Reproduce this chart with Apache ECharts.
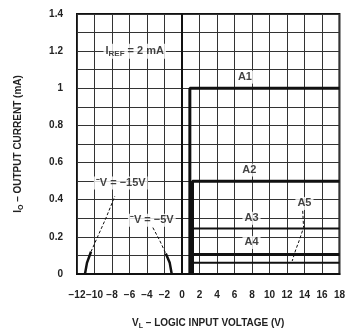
<!DOCTYPE html>
<html>
<head>
<meta charset="utf-8">
<script src="https://cdn.jsdelivr.net/npm/echarts@6/dist/echarts.min.js"></script>
<style>
  html, body { margin: 0; padding: 0; background: #fff; }
  #chart { width: 348px; height: 335px; }
</style>
</head>
<body>
<div id="chart"></div>
<script>
// bit transfer curves (logic input V, output mA)
const curveA1 = [[0.9, 0], [0.9, 1.0], [18, 1.0]];
const curveA2 = [[1.2, 0], [1.2, 0.5], [18, 0.5]];
const curveA3 = [[1.2, 0], [1.2, 0.245], [18, 0.245]];
const curveA4 = [[1.2, 0], [1.2, 0.105], [18, 0.105]];
const curveA5 = [[1.2, 0], [1.2, 0.06], [18, 0.06]];

// threshold curves on the negative side
const neg15Solid = [[-11.09, 0], [-10.86, 0.06], [-10.4, 0.12]];
const neg15Dash = [[-10.4, 0.12], [-9.6, 0.205], [-8.7, 0.3], [-7.67, 0.42]];
const neg5Dash = [[-3.33, 0.25], [-2.54, 0.18], [-1.85, 0.11]];
const neg5Solid = [[-1.85, 0.11], [-1.4, 0.06], [-1.17, 0]];

// leader from the A5 tag down to its line
const leaderA5 = [[13.8, 0.34], [13.9, 0.25], [13.4, 0.18], [13.0, 0.13], [12.6, 0.07]];

// text tags [x, y, text]
const tags = [
  [7.2, 1.06, 'A1'],
  [7.7, 0.56, 'A2'],
  [7.95, 0.30, 'A3'],
  [7.95, 0.17, 'A4'],
  [14.0, 0.38, 'A5'],
  [-5.4, 1.2, '{n|I}{s|REF}{n| = 2 mA}'],
  [-7.0, 0.49, '⁻V = −15V'],
  [-3.45, 0.29, '⁻V = −5V']
];

const xTickMin = -12, xTickMax = 18, xStep = 2;
const yMin = 0, yMax = 1.4, yGridStep = 0.1;

const FONT = 'Liberation Sans Narrow, Liberation Sans, Arial, sans-serif';

function line(data, width, dashed) {
  return {
    type: 'line', data, symbol: 'none', silent: true, animation: false,
    lineStyle: { color: '#111', width, type: dashed ? [3, 2] : 'solid' },
    z: 3
  };
}

const chart = echarts.init(document.getElementById('chart'), null, { renderer: 'canvas' });
chart.setOption({
  backgroundColor: '#fff',
  animation: false,
  grid: { left: 77, right: 8, top: 14, bottom: 61, show: true, borderColor: '#111', borderWidth: 2 },
  xAxis: {
    type: 'value', min: xTickMin, max: xTickMax, interval: xStep,
    name: '{v|V}{s|L}{t| – LOGIC INPUT VOLTAGE (V)}',
    nameLocation: 'middle', nameGap: 43,
    nameTextStyle: {
      rich: {
        v: { fontFamily: FONT, fontSize: 10, fontWeight: 'bold', color: '#222' },
        s: { fontFamily: FONT, fontSize: 7, fontWeight: 'bold', color: '#222', verticalAlign: 'bottom', padding: [6, 0, 0, 0] },
        t: { fontFamily: FONT, fontSize: 10, fontWeight: 'bold', color: '#222' }
      }
    },
    axisLine: { lineStyle: { color: '#111', width: 2 } },
    axisTick: { show: false },
    axisLabel: {
      margin: 16, color: '#222', fontFamily: FONT, fontSize: 10, fontWeight: 'bold',
      formatter: v => (v < 0 ? '−' + Math.abs(v) : String(v))
    },
    splitLine: { lineStyle: { color: '#333', width: 1 } }
  },
  yAxis: {
    type: 'value', min: yMin, max: yMax, interval: yGridStep,
    name: '{i|I}{s|O}{t| – OUTPUT CURRENT (mA)}',
    nameLocation: 'middle', nameGap: 52, nameRotate: 90,
    nameTextStyle: {
      rich: {
        i: { fontFamily: FONT, fontSize: 10, fontWeight: 'bold', color: '#222' },
        s: { fontFamily: FONT, fontSize: 7, fontWeight: 'bold', color: '#222', padding: [6, 0, 0, 0] },
        t: { fontFamily: FONT, fontSize: 10, fontWeight: 'bold', color: '#222' }
      }
    },
    axisLine: { show: true, lineStyle: { color: '#111', width: 2 } },
    axisTick: { show: false },
    axisLabel: {
      margin: 14, color: '#222', fontFamily: FONT, fontSize: 10, fontWeight: 'bold',
      formatter: v => {
        const k = Math.round(v * 10);
        if (k % 2 !== 0) return '';
        return k === 10 ? '1' : (k / 10).toFixed(1).replace(/\.0$/, '');
      }
    },
    splitLine: { lineStyle: { color: '#333', width: 1 } }
  },
  series: [
    line(curveA1, 3),
    line(curveA2, 3),
    line(curveA3, 2),
    line(curveA4, 3),
    line(curveA5, 2),
    line(neg15Solid, 2.5),
    line(neg15Dash, 1, true),
    line(neg5Dash, 1, true),
    line(neg5Solid, 2.5),
    line(leaderA5, 1, true),
    {
      type: 'scatter', silent: true, symbolSize: 0, z: 5,
      data: tags.map(t => ({ value: [t[0], t[1]], label: { formatter: t[2] } })),
      label: {
        show: true, position: 'inside', color: '#111',
        fontFamily: FONT, fontSize: 11, fontWeight: 'bold',
        backgroundColor: '#fff', padding: [1, 2],
        rich: {
          n: { fontFamily: FONT, fontSize: 11, fontWeight: 'bold', color: '#111' },
          s: { fontFamily: FONT, fontSize: 8, fontWeight: 'bold', color: '#111', padding: [5, 0, 0, 0] }
        }
      }
    }
  ]
});
</script>
</body>
</html>
